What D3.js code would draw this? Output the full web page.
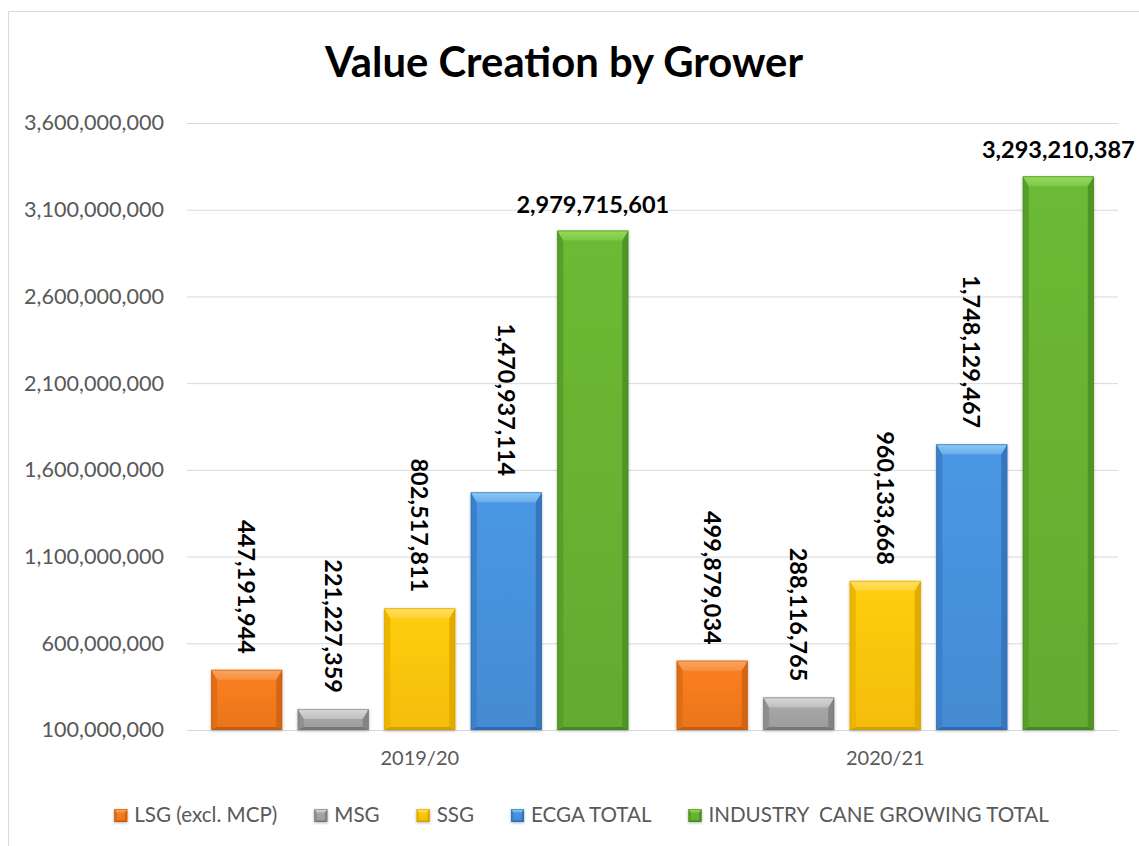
<!DOCTYPE html>
<html>
<head>
<meta charset="utf-8">
<script src="https://cdn.jsdelivr.net/npm/d3@7"></script>
<style>
  body { margin: 0; background: #fff; }
  svg { display: block; }
</style>
</head>
<body>
<svg id="chart" width="1139" height="846"></svg>
<script>
// ---- data ----
const years = ["2019/20", "2020/21"];
const seriesNames = ["LSG (excl. MCP)", "MSG", "SSG", "ECGA TOTAL", "INDUSTRY  CANE GROWING TOTAL"];
const lsgValues = [447191944, 499879034];
const msgValues = [221227359, 288116765];
const ssgValues = [802517811, 960133668];
const ecgaValues = [1470937114, 1748129467];
const industryValues = [2979715601, 3293210387];
const yTickValues = [100000000, 600000000, 1100000000, 1600000000, 2100000000, 2600000000, 3100000000, 3600000000];

const seriesValues = [lsgValues, msgValues, ssgValues, ecgaValues, industryValues];

// bevelled fill colours per series: face, highlight, shade
const palette = [
  { face: "#F37A1F", light: "#F9A560", dark: "#C45D0E" },
  { face: "#A3A3A3", light: "#D9D9D9", dark: "#767676" },
  { face: "#FFC508", light: "#FFE063", dark: "#D4A100" },
  { face: "#4791DB", light: "#8CCBF7", dark: "#2D6BB0" },
  { face: "#67B232", light: "#96DA5E", dark: "#478720" }
];

const W = 1139, H = 846;
const margin = { left: 187, right: 1118, top: 123, bottom: 730 };

const svg = d3.select("#chart");
const fmt = d3.format(",");

// chart area frame
svg.append("path")
  .attr("d", `M8.5,${H} L8.5,11.5 L${W},11.5`)
  .attr("fill", "none")
  .attr("stroke", "#D9D9D9")
  .attr("stroke-width", 1);

const defs = svg.append("defs");
const shadow = defs.append("filter").attr("id", "barShadow")
  .attr("x", "-20%").attr("y", "-20%").attr("width", "140%").attr("height", "140%");
shadow.append("feDropShadow")
  .attr("dx", 0).attr("dy", 1).attr("stdDeviation", 1.6)
  .attr("flood-color", "#000").attr("flood-opacity", 0.28);

palette.forEach((c, i) => {
  const gFace = defs.append("linearGradient").attr("id", "face" + i)
    .attr("x1", 0).attr("y1", 0).attr("x2", 0).attr("y2", 1);
  gFace.append("stop").attr("offset", 0).attr("stop-color", d3.color(c.face).brighter(0.12));
  gFace.append("stop").attr("offset", 1).attr("stop-color", d3.color(c.face).darker(0.12));
  const gTop = defs.append("linearGradient").attr("id", "top" + i)
    .attr("x1", 0).attr("y1", 0).attr("x2", 0).attr("y2", 1);
  gTop.append("stop").attr("offset", 0).attr("stop-color", c.light);
  gTop.append("stop").attr("offset", 1).attr("stop-color", d3.interpolateRgb(c.light, c.face)(0.5));
});

// ---- scales ----
const x0 = d3.scaleBand().domain(years).range([margin.left, margin.right]).padding(0);
const x1 = d3.scaleBand().domain(d3.range(seriesNames.length))
  .range([0, x0.bandwidth()]).paddingInner(0.18).paddingOuter(0.28);
const y = d3.scaleLinear().domain([100000000, 3600000000]).range([margin.bottom, margin.top]);

// ---- gridlines & y axis ----
const yAxis = d3.axisLeft(y)
  .tickValues(yTickValues)
  .tickSize(-(margin.right - margin.left))
  .tickPadding(23)
  .tickFormat(fmt);

const yg = svg.append("g")
  .attr("transform", `translate(${margin.left},0)`)
  .call(yAxis);
yg.select(".domain").remove();
yg.selectAll(".tick line").attr("stroke", "#D9D9D9").attr("stroke-width", 1);
yg.selectAll(".tick text")
  .attr("fill", "#595959")
  .style("font-family", "Lato, 'Open Sans', sans-serif")
  .style("font-size", "21.6px");

// ---- x axis labels ----
const xAxis = d3.axisBottom(x0).tickSize(0).tickPadding(21);
const xg = svg.append("g")
  .attr("transform", `translate(0,${margin.bottom})`)
  .call(xAxis);
xg.select(".domain").attr("stroke", "#D9D9D9");
xg.selectAll(".tick text")
  .attr("fill", "#595959")
  .style("font-family", "Lato, 'Open Sans', sans-serif")
  .style("font-size", "20px");

// ---- bevelled bar ----
function bevelBar(g, bx, by, bw, bh, i, s, t, sb) {
  const c = palette[i];
  const x1b = bx + bw, yb = by + bh;
  const bar = g.append("g").attr("filter", "url(#barShadow)");
  bar.append("rect").attr("x", bx).attr("y", by).attr("width", bw).attr("height", bh)
    .attr("fill", `url(#face${i})`);
  // side shading
  bar.append("polygon")
    .attr("points", [[bx, by], [bx + s, by + t], [bx + s, yb - sb], [bx, yb]].join(" "))
    .attr("fill", d3.interpolateRgb(c.face, c.dark)(0.45));
  bar.append("polygon")
    .attr("points", [[x1b, by], [x1b - s, by + t], [x1b - s, yb - sb], [x1b, yb]].join(" "))
    .attr("fill", d3.interpolateRgb(c.face, c.dark)(0.7));
  // bottom edge
  bar.append("polygon")
    .attr("points", [[bx, yb], [bx + s, yb - sb], [x1b - s, yb - sb], [x1b, yb]].join(" "))
    .attr("fill", c.dark);
  // top highlight
  bar.append("polygon")
    .attr("points", [[bx, by], [x1b, by], [x1b - s, by + t], [bx + s, by + t]].join(" "))
    .attr("fill", `url(#top${i})`);
  // outline
  bar.append("rect").attr("x", bx + 0.5).attr("y", by + 0.5).attr("width", bw - 1).attr("height", bh - 1)
    .attr("fill", "none").attr("stroke", c.dark).attr("stroke-opacity", 0.55).attr("stroke-width", 1);
}

// ---- bars ----
const barsG = svg.append("g");
years.forEach((yr, yi) => {
  seriesValues.forEach((vals, si) => {
    const v = vals[yi];
    const bx = x0(yr) + x1(si);
    const by = y(v);
    bevelBar(barsG, bx, by, x1.bandwidth(), y(100000000) - by, si, 6, 10, 3);
  });
});

// ---- value labels ----
const labelsG = svg.append("g")
  .style("font-family", "Lato, 'Open Sans', sans-serif")
  .style("font-weight", "700")
  .style("font-size", "23.5px")
  .attr("fill", "#000");

years.forEach((yr, yi) => {
  seriesValues.forEach((vals, si) => {
    const v = vals[yi];
    const cx = x0(yr) + x1(si) + x1.bandwidth() / 2;
    const top = y(v);
    if (si === seriesValues.length - 1) {
      labelsG.append("text")
        .attr("x", cx).attr("y", top - 18)
        .attr("text-anchor", "middle")
        .text(fmt(v));
    } else {
      labelsG.append("text")
        .attr("transform", `translate(${cx},${top - 16}) rotate(90)`)
        .attr("text-anchor", "end")
        .attr("dy", "0.36em")
        .text(fmt(v));
    }
  });
});

// ---- title ----
svg.append("text")
  .attr("x", 564).attr("y", 77)
  .attr("text-anchor", "middle")
  .style("font-family", "Lato, 'Open Sans', sans-serif")
  .style("font-weight", "700")
  .style("font-size", "41.8px")
  .attr("fill", "#000")
  .text("Value Creation by Grower");

// ---- legend ----
const legendG = svg.append("g");
const sq = 13, sqGap = 7, itemGap = 37;
let lx = 0;
seriesNames.forEach((name, i) => {
  const item = legendG.append("g").attr("transform", `translate(${lx},0)`);
  bevelBar(item, 0, 809, sq, sq, i, 2.5, 3.5, 1.5);
  const t = item.append("text")
    .attr("x", sq + sqGap).attr("y", 822)
    .attr("fill", "#595959")
    .attr("xml:space", "preserve")
    .style("white-space", "pre")
    .style("font-family", "Lato, 'Open Sans', sans-serif")
    .style("font-size", "20.6px")
    .text(name);
  lx += sq + sqGap + t.node().getComputedTextLength() + itemGap;
});
const legendWidth = lx - itemGap;
legendG.attr("transform", `translate(${581.5 - legendWidth / 2},0)`);
</script>
</body>
</html>
